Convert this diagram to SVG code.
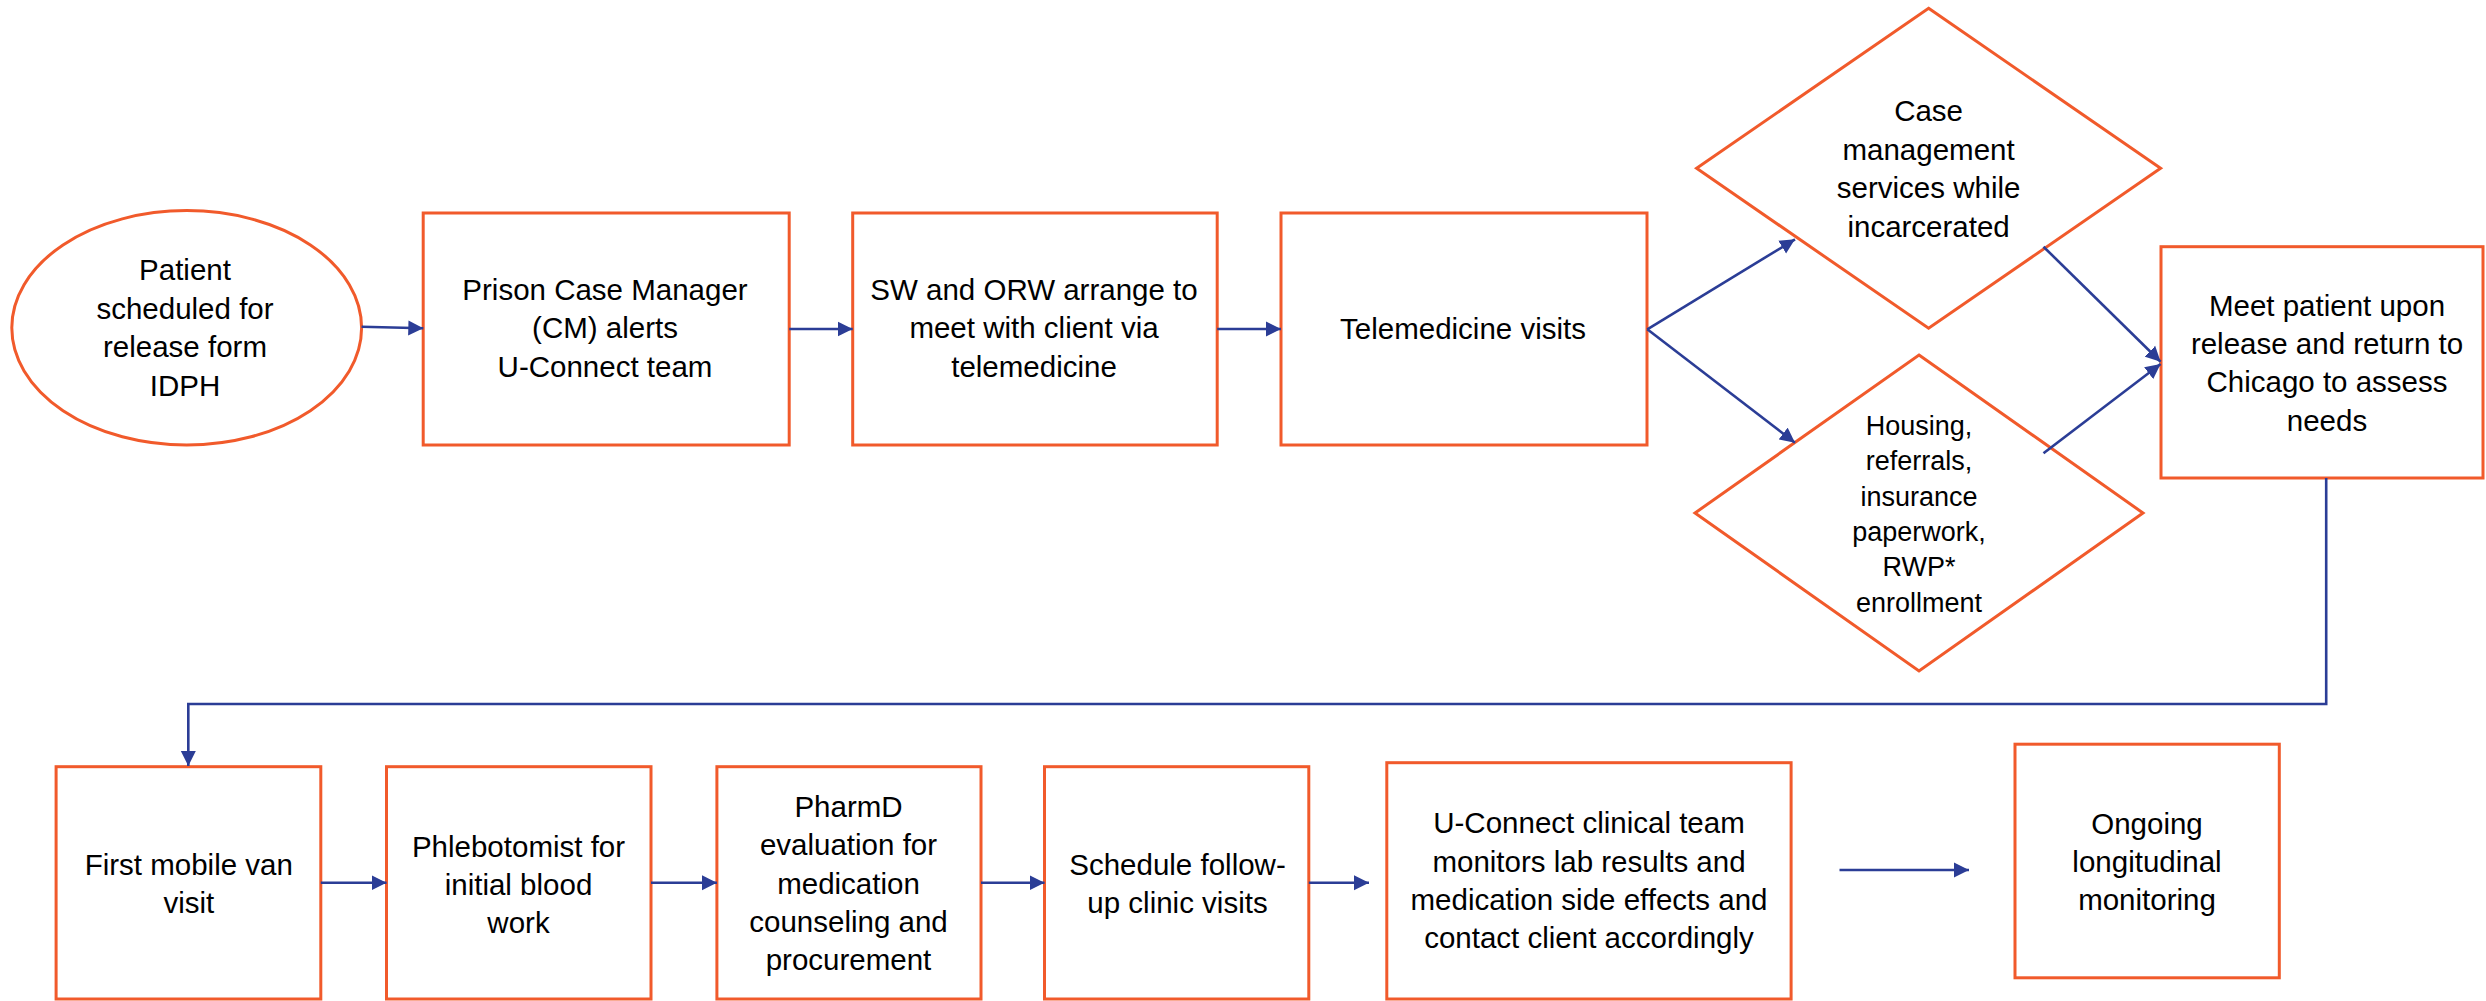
<svg xmlns="http://www.w3.org/2000/svg" width="2486" height="1001" viewBox="0 0 2486 1001">
<style>
.n{fill:#fff;stroke:#F15A2B;stroke-width:3}
.t{font-family:"Liberation Sans",Arial,sans-serif;font-size:29.5px;fill:#000;text-anchor:middle}
.s{font-size:27px}
.c{fill:none;stroke:#2B3D96;stroke-width:2.6}
.a{marker-end:url(#ah)}
</style>
<defs>
<marker id="ah" markerUnits="userSpaceOnUse" markerWidth="16" markerHeight="16" viewBox="0 0 16 15" refX="15" refY="7.5" orient="auto">
<path d="M0,0 L15,7.5 L0,15 z" fill="#2B3D96"/>
</marker>
</defs>
<g id="start">
<ellipse class="n" cx="186.7" cy="327.8" rx="174.9" ry="117.2"/>
<text class="t" x="185"><tspan x="185" y="280">Patient</tspan><tspan x="185" y="318.5">scheduled for</tspan><tspan x="185" y="357">release form</tspan><tspan x="185" y="395.5">IDPH</tspan></text>
</g>
<g id="prison-cm">
<rect class="n" x="423.2" y="213" width="366" height="232"/>
<text class="t"><tspan x="605" y="300">Prison Case Manager</tspan><tspan x="605" y="338.3">(CM) alerts</tspan><tspan x="605" y="376.7">U-Connect team</tspan></text>
</g>
<g id="sw-orw">
<rect class="n" x="852.7" y="213" width="364.5" height="232"/>
<text class="t"><tspan x="1034" y="300">SW and ORW arrange to</tspan><tspan x="1034" y="338.3">meet with client via</tspan><tspan x="1034" y="376.7">telemedicine</tspan></text>
</g>
<g id="telemedicine">
<rect class="n" x="1281" y="213" width="366" height="232"/>
<text class="t"><tspan x="1463" y="339.3">Telemedicine visits</tspan></text>
</g>
<g id="case-mgmt">
<polygon class="n" points="1928.6,8.3 2160.6,168.3 1928.6,328.3 1696.6,168.3"/>
<text class="t"><tspan x="1928.6" y="121">Case</tspan><tspan x="1928.6" y="159.5">management</tspan><tspan x="1928.6" y="198">services while</tspan><tspan x="1928.6" y="236.5">incarcerated</tspan></text>
</g>
<g id="housing">
<polygon class="n" points="1919,355 2143,513 1919,671 1695,513"/>
<text class="t s"><tspan x="1919" y="435">Housing,</tspan><tspan x="1919" y="470.3">referrals,</tspan><tspan x="1919" y="505.6">insurance</tspan><tspan x="1919" y="541">paperwork,</tspan><tspan x="1919" y="576.3">RWP*</tspan><tspan x="1919" y="611.6">enrollment</tspan></text>
</g>
<g id="meet">
<rect class="n" x="2161" y="246.7" width="322" height="231.3"/>
<text class="t"><tspan x="2327" y="316">Meet patient upon</tspan><tspan x="2327" y="353.5">release and return to</tspan><tspan x="2327" y="392">Chicago to assess</tspan><tspan x="2327" y="430.5">needs</tspan></text>
</g>
<g id="first-van">
<rect class="n" x="56.1" y="766.7" width="264.7" height="232.3"/>
<text class="t"><tspan x="188.8" y="875">First mobile van</tspan><tspan x="188.8" y="913.3">visit</tspan></text>
</g>
<g id="phlebotomist">
<rect class="n" x="386.5" y="766.7" width="264.5" height="232.3"/>
<text class="t"><tspan x="518.5" y="856.7">Phlebotomist for</tspan><tspan x="518.5" y="895">initial blood</tspan><tspan x="518.5" y="932.7">work</tspan></text>
</g>
<g id="pharmd">
<rect class="n" x="716.9" y="766.7" width="264.1" height="232.3"/>
<text class="t"><tspan x="848.5" y="817">PharmD</tspan><tspan x="848.5" y="855.3">evaluation for</tspan><tspan x="848.5" y="893.6">medication</tspan><tspan x="848.5" y="932">counseling and</tspan><tspan x="848.5" y="970.3">procurement</tspan></text>
</g>
<g id="schedule">
<rect class="n" x="1044.5" y="766.7" width="264.3" height="232.3"/>
<text class="t"><tspan x="1177.5" y="875">Schedule follow-</tspan><tspan x="1177.5" y="913.3">up clinic visits</tspan></text>
</g>
<g id="uconnect">
<rect class="n" x="1386.8" y="762.7" width="404.3" height="236.3"/>
<text class="t"><tspan x="1589" y="833.3">U-Connect clinical team</tspan><tspan x="1589" y="871.7">monitors lab results and</tspan><tspan x="1589" y="910">medication side effects and</tspan><tspan x="1589" y="948.3">contact client accordingly</tspan></text>
</g>
<g id="ongoing">
<rect class="n" x="2015" y="744.2" width="264.3" height="233.6"/>
<text class="t"><tspan x="2147" y="833.8">Ongoing</tspan><tspan x="2147" y="871.7">longitudinal</tspan><tspan x="2147" y="909.6">monitoring</tspan></text>
</g>
<g id="connectors">
<line class="c a" x1="361.6" y1="326.7" x2="423.3" y2="328.3"/>
<line class="c a" x1="789.2" y1="329" x2="852.7" y2="329"/>
<line class="c a" x1="1217.2" y1="329" x2="1281" y2="329"/>
<line class="c a" x1="1647.3" y1="329.3" x2="1795" y2="239.3"/>
<line class="c a" x1="1647.3" y1="329.3" x2="1795" y2="442.7"/>
<line class="c a" x1="2043.5" y1="246.7" x2="2160.6" y2="361.7"/>
<line class="c a" x1="2043.5" y1="453.3" x2="2160.6" y2="364"/>
<polyline class="c a" points="2326.2,478 2326.2,704 188.3,704 188.3,766"/>
<line class="c a" x1="320.8" y1="882.7" x2="386.5" y2="882.7"/>
<line class="c a" x1="651" y1="882.7" x2="716.9" y2="882.7"/>
<line class="c a" x1="981" y1="882.7" x2="1044.5" y2="882.7"/>
<line class="c a" x1="1308.8" y1="882.7" x2="1369" y2="882.7"/>
<line class="c a" x1="1839.5" y1="870" x2="1969" y2="870"/>
</g>
</svg>
